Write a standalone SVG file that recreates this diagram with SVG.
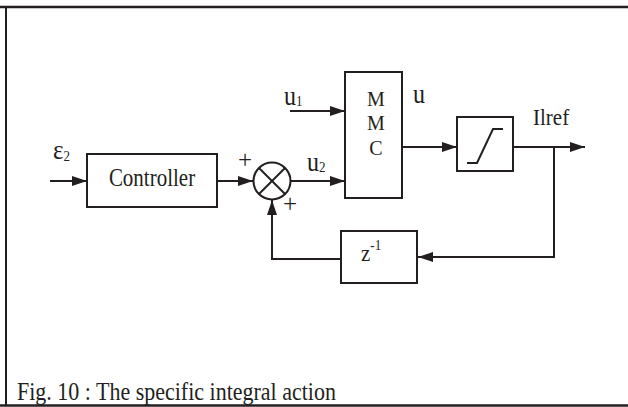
<svg xmlns="http://www.w3.org/2000/svg" width="628" height="407" viewBox="0 0 628 407">
<defs>
<style>
.ln{stroke:#231f20;stroke-width:2;fill:none}
.bx{stroke:#231f20;stroke-width:2;fill:#fff}
.t{font-family:"Liberation Serif","Times New Roman",serif;fill:#231f20}
</style>
<marker id="ah" markerUnits="userSpaceOnUse" markerWidth="16" markerHeight="11" refX="15" refY="5" orient="auto">
<path d="M0,0 L15,5 L0,10 z" fill="#231f20"/>
</marker>
</defs>
<rect width="628" height="407" fill="#fff"/>
<g id="frame">
<line x1="0" y1="7" x2="628" y2="7" stroke="#231f20" stroke-width="2.5"/>
<line x1="6" y1="7" x2="6" y2="406" stroke="#231f20" stroke-width="2"/>
<line x1="0" y1="405.5" x2="628" y2="405.5" stroke="#231f20" stroke-width="2.5"/>
</g>
<g id="connectors">
<line class="ln" x1="50" y1="181" x2="87" y2="181" marker-end="url(#ah)"/>
<line class="ln" x1="217" y1="181" x2="253" y2="181" marker-end="url(#ah)"/>
<line class="ln" x1="291" y1="181" x2="345" y2="181" marker-end="url(#ah)"/>
<line class="ln" x1="290" y1="111" x2="345" y2="111" marker-end="url(#ah)"/>
<line class="ln" x1="402" y1="147" x2="457" y2="147" marker-end="url(#ah)"/>
<line class="ln" x1="513" y1="147" x2="585" y2="147" marker-end="url(#ah)"/>
<polyline class="ln" points="554,147 554,257 418,257" marker-end="url(#ah)"/>
<polyline class="ln" points="341,259 272,259 272,200" marker-end="url(#ah)"/>
</g>
<g id="input-label">
<text class="t" transform="translate(53,159) scale(1,1.12)" font-size="25">ε<tspan font-size="13" dy="2">2</tspan></text>
</g>
<g id="controller">
<rect class="bx" x="87" y="154" width="130" height="53"/>
<text class="t" transform="translate(152,186) scale(1,1.15)" font-size="21" text-anchor="middle">Controller</text>
</g>
<g id="sum">
<circle class="bx" cx="272" cy="181" r="18.5"/>
<line class="ln" x1="259" y1="168" x2="285" y2="194"/>
<line class="ln" x1="259" y1="194" x2="285" y2="168"/>
<text class="t" x="245" y="167.5" font-size="25" text-anchor="middle">+</text>
<text class="t" x="290" y="212" font-size="25" text-anchor="middle">+</text>
</g>
<g id="u-labels">
<text class="t" transform="translate(284,105) scale(1,1.18)" font-size="24">u<tspan font-size="13" dy="1">1</tspan></text>
<text class="t" transform="translate(307,171) scale(1,1.18)" font-size="24">u<tspan font-size="13" dy="1">2</tspan></text>
<text class="t" transform="translate(413,103) scale(1,1.18)" font-size="24">u</text>
</g>
<g id="mmc">
<rect class="bx" x="345" y="72" width="57" height="126"/>
<text class="t" x="376" y="106" font-size="20" text-anchor="middle">M</text>
<text class="t" x="376" y="130" font-size="20" text-anchor="middle">M</text>
<text class="t" x="376" y="155" font-size="20" text-anchor="middle">C</text>
</g>
<g id="saturation">
<rect class="bx" x="457" y="117" width="56" height="54"/>
<polyline class="ln" points="467,163 477,163 493,129 503,129"/>
</g>
<g id="output-label">
<text class="t" transform="translate(533,125) scale(1,1.08)" font-size="21">Ilref</text>
</g>
<g id="delay">
<rect class="bx" x="341" y="231" width="76" height="52"/>
<text class="t" transform="translate(361,261) scale(1,1.1)" font-size="21">z<tspan font-size="13" dy="-10">-1</tspan></text>
</g>
<g id="caption">
<text class="t" transform="translate(17,400) scale(1,1.1)" font-size="22">Fig. 10 : The specific integral action</text>
</g>
</svg>
